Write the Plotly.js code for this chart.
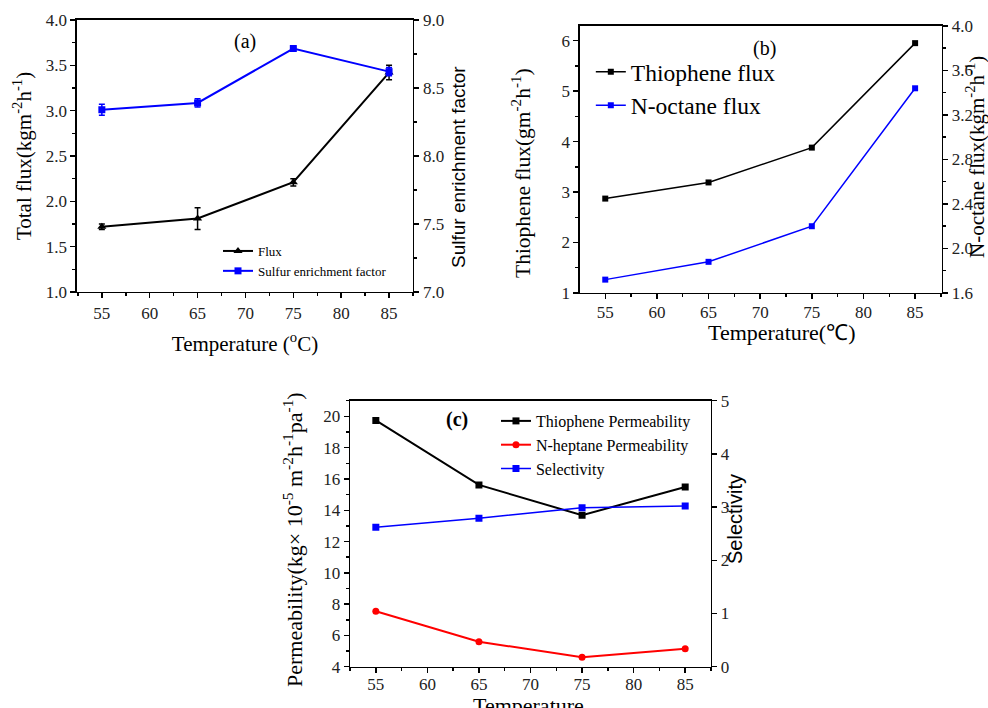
<!DOCTYPE html>
<html>
<head>
<meta charset="utf-8">
<script src="https://cdn.plot.ly/plotly-3.0.1.min.js"></script>
<style>html,body{margin:0;padding:0;background:#fff;}#chart{width:988px;height:708px;}</style>
</head>
<body>
<div id="chart"></div>
<script>
// ---- data ----
var temps = [55, 65, 75, 85];
var fluxA = [1.72, 1.81, 2.21, 3.42];
var fluxErrA = [0.03, 0.12, 0.04, 0.08];
var sulfurEfA = [8.34, 8.39, 8.79, 8.62];
var sulfurErrA = [0.04, 0.03, 0.01, 0.03];
var thiopheneFluxB = [2.87, 3.19, 3.88, 5.95];
var octaneFluxB = [1.72, 1.88, 2.20, 3.44];
var thiophenePermC = [19.74, 15.62, 13.68, 15.49];
var heptanePermC = [7.55, 5.60, 4.60, 5.15];
var selectivityC = [2.62, 2.79, 2.99, 3.02];

var SERIF = '"Liberation Serif", "Times New Roman", serif';
var SANS = '"Liberation Sans", Arial, sans-serif';

var traces = [
  {x: temps, y: fluxA, name: 'Flux', xaxis: 'x', yaxis: 'y', mode: 'lines+markers',
   line: {color: '#000', width: 2}, marker: {symbol: 'triangle-up', size: 8, color: '#000'},
   error_y: {type: 'data', array: fluxErrA, visible: true, color: '#000', thickness: 1.5, width: 3},
   legend: 'legend'},
  {x: temps, y: sulfurEfA, name: 'Sulfur enrichment factor', xaxis: 'x', yaxis: 'y2', mode: 'lines+markers',
   line: {color: '#0000ff', width: 2}, marker: {symbol: 'square', size: 7, color: '#0000ff'},
   error_y: {type: 'data', array: sulfurErrA, visible: true, color: '#0000ff', thickness: 1.5, width: 3},
   legend: 'legend'},
  {x: temps, y: thiopheneFluxB, name: 'Thiophene flux', xaxis: 'x2', yaxis: 'y3', mode: 'lines+markers',
   line: {color: '#000', width: 1.5}, marker: {symbol: 'square', size: 6, color: '#000'},
   legend: 'legend2'},
  {x: temps, y: octaneFluxB, name: 'N-octane flux', xaxis: 'x2', yaxis: 'y4', mode: 'lines+markers',
   line: {color: '#0000ff', width: 1.5}, marker: {symbol: 'square', size: 6, color: '#0000ff'},
   legend: 'legend2'},
  {x: temps, y: thiophenePermC, name: 'Thiophene Permeability', xaxis: 'x3', yaxis: 'y5', mode: 'lines+markers',
   line: {color: '#000', width: 2}, marker: {symbol: 'square', size: 7, color: '#000'},
   legend: 'legend3'},
  {x: temps, y: heptanePermC, name: 'N-heptane Permeability', xaxis: 'x3', yaxis: 'y5', mode: 'lines+markers',
   line: {color: '#ff0000', width: 2}, marker: {symbol: 'circle', size: 7, color: '#ff0000'},
   legend: 'legend3'},
  {x: temps, y: selectivityC, name: 'Selectivity', xaxis: 'x3', yaxis: 'y6', mode: 'lines+markers',
   line: {color: '#0000ff', width: 1.5}, marker: {symbol: 'square', size: 7, color: '#0000ff'},
   legend: 'legend3'}
];

function xAx(domain, range, anchor, title, standoff, lblOff) {
  var a = {domain: domain, range: range, anchor: anchor, tick0: 55, dtick: 5,
    ticks: 'outside', ticklen: 5, tickwidth: 1.5, tickcolor: '#000',
    minor: {ticks: 'outside', dtick: 2.5, ticklen: 3, tickcolor: '#000', tickwidth: 1.5},
    showline: true, mirror: true, linecolor: '#000', linewidth: 1.5,
    showgrid: false, zeroline: false, ticklabelstandoff: lblOff,
    tickfont: {family: SERIF, size: 17, color: '#222'}};
  if (title) a.title = {text: title, font: {family: SERIF, size: 21, color: '#000'}, standoff: standoff};
  return a;
}
function yAx(domain, range, anchor, dtick, minorD, fmt, title, tfont, side, overlay, standoff) {
  var a = {domain: domain, range: range, anchor: anchor, dtick: dtick, tickformat: fmt,
    ticks: 'outside', ticklen: 5, tickwidth: 1.5, tickcolor: '#000',
    showline: true, linecolor: '#000', linewidth: 1.5,
    showgrid: false, zeroline: false,
    tickfont: {family: SERIF, size: 17, color: '#222'}};
  if (title) a.title = {text: title, font: tfont, standoff: standoff};
  if (minorD) a.minor = {ticks: 'outside', dtick: minorD, ticklen: 3, tickcolor: '#000', tickwidth: 1.5};
  if (side) a.side = side;
  if (overlay) a.overlaying = overlay;
  return a;
}
function vTitle(text, px, py, font) {
  return {text: text, xref: 'paper', yref: 'paper', x: px / 988, y: 1 - py / 708,
    xanchor: 'center', yanchor: 'middle', textangle: -90, showarrow: false, font: font};
}
function hTitle(text, px, py, font) {
  return {text: text, xref: 'paper', yref: 'paper', x: px / 988, y: 1 - py / 708,
    xanchor: 'center', yanchor: 'middle', showarrow: false, font: font};
}

var layout = {
  width: 988, height: 708,
  margin: {l: 0, r: 0, t: 0, b: 0},
  paper_bgcolor: '#fff', plot_bgcolor: 'rgba(0,0,0,0)',
  font: {family: SERIF, color: '#000'},
  xaxis: xAx([0.0779, 0.418], [52.4, 87.5], 'y', 'Temperature (<sup>o</sup>C)', 14, 0),
  yaxis: yAx([0.5876, 0.9718], [1, 4], 'x', 0.5, 0.25, '.1f',
    'Total flux(kgm<sup>-2</sup>h<sup>-1</sup>)', {family: SERIF, size: 21, color: '#000'}, null, null, 8),
  yaxis2: yAx([0.5876, 0.9718], [7, 9], 'x', 0.5, 0.25, '.1f', '', null, 'right', 'y', 0),
  xaxis2: xAx([0.587, 0.9534], [52.55, 87.6], 'y3', '', 0, -2),
  yaxis3: yAx([0.5862, 0.9633], [1, 6.29], 'x2', 1, 0.5, 'd', '', null, null, null, 0),
  yaxis4: yAx([0.5862, 0.9633], [1.6, 4.0], 'x2', 0.4, 0.2, '.1f', '', null, 'right', 'y3', 0),
  xaxis3: xAx([0.3543, 0.7196], [52.5, 87.5], 'y5', '', 0, -4),
  yaxis5: yAx([0.0583, 0.434], [4, 21], 'x3', 2, 1, 'd', '', null, null, null, 0),
  yaxis6: yAx([0.0583, 0.434], [0, 5], 'x3', 1, null, 'd', '', null, 'right', 'y5', 0),
  legend: {x: 218 / 988, y: 1 - 236 / 708, xanchor: 'left', yanchor: 'top', bgcolor: 'rgba(0,0,0,0)',
    font: {family: SERIF, size: 13, color: '#000'}, tracegroupgap: 0, itemwidth: 30},
  legend2: {x: 0.598, y: 1 - 50 / 708, xanchor: 'left', yanchor: 'top', bgcolor: 'rgba(0,0,0,0)',
    font: {family: SERIF, size: 23.5, color: '#000'}, itemwidth: 30},
  legend3: {x: 0.502, y: 1 - 404 / 708, xanchor: 'left', yanchor: 'top', bgcolor: 'rgba(0,0,0,0)',
    font: {family: SERIF, size: 16, color: '#000'}, itemwidth: 30},
  annotations: [
    hTitle('(a)', 245, 42, {family: SERIF, size: 20, color: '#000'}),
    hTitle('(b)', 764, 48, {family: SERIF, size: 20, color: '#000'}),
    hTitle('<b>(c)</b>', 457, 419, {family: SERIF, size: 20, color: '#000'}),
    vTitle('Sulfur enrichment factor', 459, 167, {family: SANS, size: 19, color: '#000'}),
    vTitle('Thiophene flux(gm<sup>-2</sup>h<sup>-1</sup>)', 522, 173, {family: SERIF, size: 21.5, color: '#000'}),
    vTitle('N-octane flux(kgm<sup>-2</sup>h<sup>-1</sup>)', 975, 157, {family: SERIF, size: 21, color: '#000'}),
    hTitle('Temperature(℃)', 782, 332, {family: SERIF, size: 22, color: '#000'}),
    vTitle('Permeability(kg× 10<sup>-5</sup> m<sup>-2</sup>h<sup>-1</sup>pa<sup>-1</sup>)', 293, 540, {family: SERIF, size: 22, color: '#000'}),
    vTitle('Selectivity', 735, 519, {family: SANS, size: 20, color: '#000'}),
    hTitle('Temperature', 528, 705, {family: SERIF, size: 22, color: '#000'})
  ],
  showlegend: true
};

Plotly.newPlot('chart', traces, layout, {staticPlot: true, displayModeBar: false});
</script>
</body>
</html>
